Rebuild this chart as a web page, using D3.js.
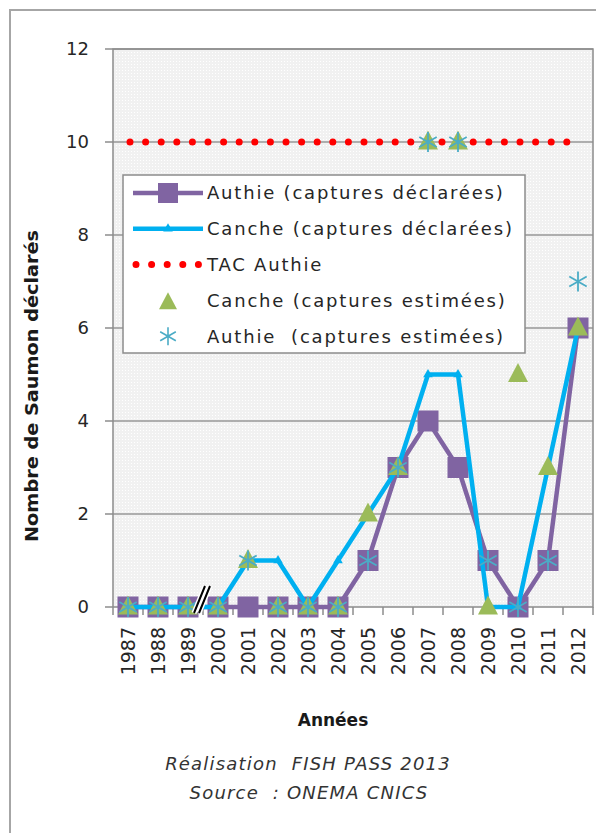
<!DOCTYPE html>
<html>
<head>
<meta charset="utf-8">
<style type="text/css">
	body { margin: 0; background: #ffffff; }
	.tick-label { font-family: "DejaVu Sans", sans-serif; font-size: 18px; fill: #262626; }
	.xtick-label { font-size: 19px; }
	.legend-label { font-family: "DejaVu Sans", sans-serif; font-size: 18px; letter-spacing: 1.8px; fill: #262626; }
	.grid-line { stroke: #969696; stroke-width: 1.5; }
	.axis-line { stroke: #8c8c8c; stroke-width: 1.5; fill: none; }
	.line-authie { stroke: #8064a2; stroke-width: 4.5; fill: none; stroke-linejoin: round; }
	.line-canche { stroke: #00b0f0; stroke-width: 4.5; fill: none; stroke-linejoin: round; }
	.line-tac { stroke: #ff0000; stroke-width: 7; fill: none; stroke-linecap: round; stroke-dasharray: 0 15.6; }
	.caption { font-family: "DejaVu Sans", sans-serif; font-style: italic; font-size: 18px; letter-spacing: 1.2px; fill: #333333; }
</style>
</head>
<body>
<div class="vis-saumon"></div>

<script src="https://d3js.org/d3.v7.min.js"></script>
<script>

	// Data //
	// ---- //
	const years = ["1987", "1988", "1989", "2000", "2001", "2002", "2003", "2004",
		"2005", "2006", "2007", "2008", "2009", "2010", "2011", "2012"];
	const authieDeclared  = [0, 0, 0, 0, 0, 0, 0, 0, 1, 3, 4, 3, 1, 0, 1, 6];
	const cancheDeclared  = [0, 0, 0, 0, 1, 1, 0, 1, 2, 3, 5, 5, 0, 0, 3, 6];
	const tacAuthie       = [10, 10, 10, 10, 10, 10, 10, 10, 10, 10, 10, 10, 10, 10, 10, 10];
	const cancheEstimated = [0, 0, 0, 0, 1, 0, 0, 0, 2, 3, 10, 10, 0, 5, 3, 6];
	const authieEstimated = [0, 0, 0, 0, 1, 0, 0, 0, 1, 3, 10, 10, 1, 0, 1, 7];
	const yTicks = [0, 2, 4, 6, 8, 10, 12];
	const legendLabels = [
		"Authie (captures déclarées)",
		"Canche (captures déclarées)",
		"TAC Authie",
		"Canche (captures estimées)",
		"Authie  (captures estimées)"
	];

	// Setup //
	// ----- //
	let W = 596, H = 833;
	let margin = {top: 49, right: 3, bottom: 226, left: 113};
	let width = W - margin.left - margin.right,
		height = H - margin.top - margin.bottom;

	let x = d3.scaleBand().domain(years).range([0, width]).padding(0);
	let y = d3.scaleLinear().domain([0, 12]).range([height, 0]);
	let cx = d => x(d) + x.bandwidth() / 2;

	let svg0 = d3.select(".vis-saumon").append("svg")
		.attr("width", W)
		.attr("height", H);

	// dotted plot background
	let defs = svg0.append("defs");
	let pat = defs.append("pattern")
		.attr("id", "bgdots")
		.attr("width", 3).attr("height", 3)
		.attr("patternUnits", "userSpaceOnUse");
	pat.append("rect").attr("width", 3).attr("height", 3).attr("fill", "#f1f1f1");
	pat.append("rect").attr("width", 1).attr("height", 1).attr("fill", "#ffffff");

	// outer frame
	svg0.append("path")
		.attr("d", "M10," + H + "V10H" + W)
		.attr("stroke", "#a6a6a6")
		.attr("stroke-width", 2)
		.attr("fill", "none");

	let svg = svg0.append("g")
		.attr("transform", "translate(" + margin.left + "," + margin.top + ")");

	svg.append("rect")
		.attr("width", width)
		.attr("height", height)
		.attr("fill", "url(#bgdots)");

	// GRID
	svg.selectAll(".grid-line")
		.data(yTicks.filter(d => d > 0))
		.enter().append("line")
		.attr("class", "grid-line")
		.attr("x1", 0).attr("x2", width)
		.attr("y1", d => y(d)).attr("y2", d => y(d));

	// border of plot area
	svg.append("path")
		.attr("class", "axis-line")
		.attr("d", "M0," + height + "V0H" + width + "V" + height + "H0");

	// Y-AXIS ticks & labels
	svg.selectAll(".ytick")
		.data(yTicks)
		.enter().append("line")
		.attr("class", "axis-line")
		.attr("x1", -8).attr("x2", 0)
		.attr("y1", d => y(d)).attr("y2", d => y(d));
	svg.selectAll(".ylabel")
		.data(yTicks)
		.enter().append("text")
		.attr("class", "tick-label")
		.attr("x", -24)
		.attr("y", d => y(d))
		.attr("dy", "0.36em")
		.style("text-anchor", "end")
		.text(d => d);

	// X-AXIS ticks & labels
	svg.selectAll(".xtick")
		.data(d3.range(years.length + 1))
		.enter().append("line")
		.attr("class", "axis-line")
		.attr("x1", i => i * x.bandwidth()).attr("x2", i => i * x.bandwidth())
		.attr("y1", height).attr("y2", height + 8);
	svg.selectAll(".xlabel")
		.data(years)
		.enter().append("text")
		.attr("class", "tick-label xtick-label")
		.attr("transform", d => "translate(" + cx(d) + "," + (height + 20) + ") rotate(-90)")
		.attr("dy", "0.36em")
		.style("text-anchor", "end")
		.text(d => d);

	// LINES
	let valueline = d3.line()
		.x(d => cx(d[0]))
		.y(d => y(d[1]));

	// Authie declared
	let datum = zip(years, authieDeclared);
	svg.append("path").datum(datum).attr("class", "line-authie").attr("d", valueline);
	svg.selectAll(".sq-authie")
		.data(datum)
		.enter().append("rect")
		.attr("x", d => cx(d[0]) - 10.5)
		.attr("y", d => y(d[1]) - 10.5)
		.attr("width", 21).attr("height", 21)
		.attr("fill", "#8064a2");

	// Canche declared
	datum = zip(years, cancheDeclared);
	svg.append("path").datum(datum).attr("class", "line-canche").attr("d", valueline);
	svg.selectAll(".tri-canche")
		.data(datum)
		.enter().append("path")
		.attr("transform", d => "translate(" + cx(d[0]) + "," + y(d[1]) + ")")
		.attr("d", d3.symbol(d3.symbolTriangle, 40))
		.attr("fill", "#00b0f0");

	// TAC Authie
	datum = zip(years, tacAuthie);
	svg.append("path").datum(datum).attr("class", "line-tac")
		.style("stroke-dashoffset", -2)
		.attr("d", valueline);

	// Canche estimated
	datum = zip(years, cancheEstimated);
	svg.selectAll(".tri-est")
		.data(datum)
		.enter().append("path")
		.attr("transform", d => "translate(" + cx(d[0]) + "," + y(d[1]) + ")")
		.attr("d", triangle(20, 19))
		.attr("fill", "#9bbb59");

	// Authie estimated
	datum = zip(years, authieEstimated);
	svg.selectAll(".star-est")
		.data(datum)
		.enter().append("path")
		.attr("transform", d => "translate(" + cx(d[0]) + "," + y(d[1]) + ")")
		.attr("d", star(10))
		.attr("stroke", "#4bacc6")
		.attr("stroke-width", 1.8)
		.attr("fill", "none");

	// axis break "//"
	let bx = x("2000");
	let brk = "M" + (bx - 9) + "," + (height + 6) + "L" + (bx + 2) + "," + (height - 21)
		+ "M" + (bx - 4) + "," + (height + 6) + "L" + (bx + 7) + "," + (height - 21);
	svg.append("path").attr("d", brk).attr("stroke", "#ffffff").attr("stroke-width", 5);
	svg.append("path").attr("d", brk).attr("stroke", "#000000").attr("stroke-width", 2);

	// LEGEND
	let legend = svg0.append("g").attr("transform", "translate(123,175)");
	legend.append("rect")
		.attr("width", 402).attr("height", 178)
		.attr("fill", "#ffffff")
		.attr("stroke", "#8c8c8c")
		.attr("stroke-width", 1.5);
	let rows = legend.selectAll(".legend-row")
		.data(legendLabels)
		.enter().append("g")
		.attr("transform", (d, i) => "translate(0," + (18 + i * 35.8) + ")");
	rows.append("text")
		.attr("class", "legend-label")
		.attr("x", 84)
		.attr("dy", "0.36em")
		.style("white-space", "pre")
		.text(d => d);

	let r0 = d3.select(rows.nodes()[0]);
	r0.append("line").attr("class", "line-authie").attr("x1", 10).attr("x2", 80);
	r0.append("rect").attr("x", 35).attr("y", -10).attr("width", 20).attr("height", 20).attr("fill", "#8064a2");
	let r1 = d3.select(rows.nodes()[1]);
	r1.append("line").attr("class", "line-canche").attr("x1", 10).attr("x2", 80);
	r1.append("path").attr("transform", "translate(45,0)").attr("d", d3.symbol(d3.symbolTriangle, 40)).attr("fill", "#00b0f0");
	let r2 = d3.select(rows.nodes()[2]);
	r2.append("line").attr("class", "line-tac").attr("x1", 13).attr("x2", 80);
	let r3 = d3.select(rows.nodes()[3]);
	r3.append("path").attr("transform", "translate(45,2)").attr("d", triangle(18, 17)).attr("fill", "#9bbb59");
	let r4 = d3.select(rows.nodes()[4]);
	r4.append("path").attr("transform", "translate(45,0)").attr("d", star(9))
		.attr("stroke", "#4bacc6").attr("stroke-width", 1.6).attr("fill", "none");

	// AXIS TITLES
	svg0.append("text")
		.attr("transform", "translate(38,386) rotate(-90)")
		.style("text-anchor", "middle")
		.style("font-family", "'DejaVu Sans Condensed', 'DejaVu Sans', sans-serif")
		.style("font-weight", 700)
		.style("font-size", "17px")
		.attr("textLength", 312)
		.attr("lengthAdjust", "spacingAndGlyphs")
		.attr("fill", "#1a1a1a")
		.text("Nombre de Saumon déclarés");

	svg0.append("text")
		.attr("x", 333).attr("y", 726)
		.style("text-anchor", "middle")
		.style("font-family", "'DejaVu Sans', sans-serif")
		.style("font-weight", 700)
		.style("font-size", "17px")
		.attr("fill", "#1a1a1a")
		.text("Années");

	svg0.append("text")
		.attr("class", "caption")
		.attr("x", 308).attr("y", 770)
		.style("text-anchor", "middle")
		.style("white-space", "pre")
		.text("Réalisation  FISH PASS 2013");
	svg0.append("text")
		.attr("class", "caption")
		.attr("x", 309).attr("y", 799)
		.style("text-anchor", "middle")
		.style("white-space", "pre")
		.text("Source  : ONEMA CNICS");

	// Utilities
	function zip(a, b) {
		return a.map((e, i) => [e, b[i]]);
	}
	function triangle(w, h) {
		return "M0," + (-h * 0.6) + "L" + (w / 2) + "," + (h * 0.4) + "L" + (-w / 2) + "," + (h * 0.4) + "Z";
	}
	function star(r) {
		let a = r * 0.87, b = r * 0.5;
		return "M0," + (-r) + "V" + r
			+ "M" + (-a) + "," + (-b) + "L" + a + "," + b
			+ "M" + (-a) + "," + b + "L" + a + "," + (-b);
	}
</script>
</body>
</html>
